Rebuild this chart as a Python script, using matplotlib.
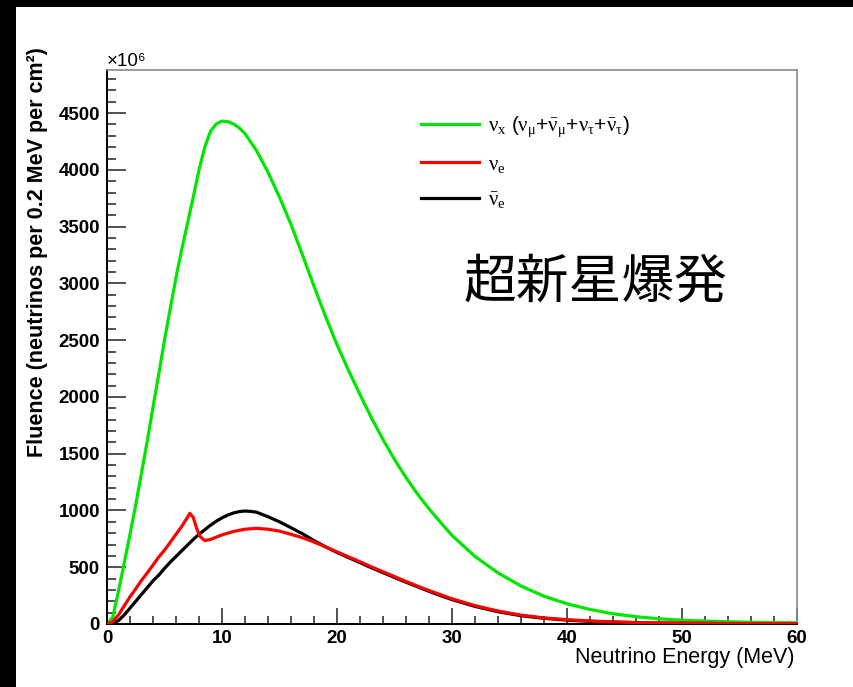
import matplotlib.pyplot as plt
from matplotlib.patches import Rectangle
from matplotlib.ticker import MultipleLocator

plt.rcParams['font.family'] = ['Liberation Sans', 'DejaVu Sans']
plt.rcParams['mathtext.fontset'] = 'custom'
plt.rcParams['mathtext.rm'] = 'Liberation Serif'
plt.rcParams['mathtext.it'] = 'Liberation Serif'
plt.rcParams['mathtext.bf'] = 'Liberation Serif:bold'

# nu_x (nu_mu + anti-nu_mu + nu_tau + anti-nu_tau)
energy_x = [0, 0.5, 1, 1.5, 2, 2.5, 3, 3.5, 4, 4.5, 5, 5.5, 6, 6.5, 7, 7.5, 8, 8.5,
            9, 9.5, 10, 10.5, 11, 11.5, 12, 13, 14, 15, 16, 17, 18, 19, 20, 21, 22,
            23, 24, 25, 26, 27, 28, 29, 30, 32, 34, 36, 38, 40, 42, 44, 46, 48, 50,
            52, 54, 56, 58, 60]
fluence_x = [0, 60, 290, 540, 790, 1050, 1330, 1610, 1910, 2200, 2500, 2780, 3050,
             3300, 3530, 3760, 4000, 4200, 4340, 4405, 4430, 4425, 4405, 4370, 4320,
             4170, 3980, 3760, 3520, 3250, 2975, 2710, 2460, 2235, 2020, 1815, 1625,
             1450, 1290, 1145, 1015, 895, 780, 595, 450, 335, 245, 178, 128, 90, 64,
             46, 34, 26, 20, 15, 12, 10]

# nu_e
energy_e = [0, 0.5, 1, 1.5, 2, 2.5, 3, 3.5, 4, 4.5, 5, 5.5, 6, 6.5, 7, 7.2, 7.5, 7.8,
            8.1, 8.5, 9, 10, 11, 12, 13, 14, 15, 16, 17, 18, 19, 20, 21, 22, 23, 24,
            25, 26, 27, 28, 29, 30, 32, 34, 36, 38, 40, 42, 44, 46, 48, 50, 55, 60]
fluence_e = [0, 20, 80, 160, 240, 310, 385, 450, 520, 590, 650, 720, 790, 860, 940,
             975, 940, 840, 770, 735, 745, 785, 815, 835, 843, 835, 818, 790, 760,
             722, 680, 635, 592, 548, 503, 460, 418, 375, 334, 295, 258, 222, 162,
             114, 78, 54, 38, 27, 19, 13, 10, 8, 4, 2]

# anti-nu_e
energy_ebar = [0, 0.5, 1, 1.5, 2, 2.5, 3, 3.5, 4, 4.5, 5, 5.5, 6, 6.5, 7, 7.5, 8,
               8.5, 9, 9.5, 10, 10.5, 11, 11.5, 12, 12.5, 13, 14, 15, 16, 17, 18, 19,
               20, 21, 22, 23, 24, 25, 26, 27, 28, 29, 30, 32, 34, 36, 38, 40, 42, 44,
               46, 48, 50, 55, 60]
fluence_ebar = [0, 5, 30, 80, 140, 200, 260, 320, 380, 430, 490, 545, 595, 645, 695,
                745, 790, 830, 870, 905, 935, 960, 978, 990, 995, 992, 985, 945, 900,
                848, 795, 735, 680, 630, 585, 540, 495, 452, 410, 368, 328, 288, 250,
                215, 155, 108, 73, 50, 34, 23, 16, 11, 8, 6, 3, 2]

labels = [r'$\nu_x$ ($\nu_\mu$+$\bar{\nu}_\mu$+$\nu_\tau$+$\bar{\nu}_\tau$)',
          r'$\nu_e$', r'$\bar{\nu}_e$']
colors = ['#00e600', '#ff0000', '#000000']

W, H = 854, 687
fig = plt.figure(figsize=(W / 100, H / 100), dpi=100)
fig.patch.set_facecolor('white')
ax = fig.add_axes([107 / W, 1 - 624 / H, (797 - 107) / W, (624 - 70) / H])

ax.plot(energy_x, fluence_x, color=colors[0], lw=2.3, label=labels[0])
ax.plot(energy_e, fluence_e, color=colors[1], lw=2.3, label=labels[1], zorder=3)
ax.plot(energy_ebar, fluence_ebar, color=colors[2], lw=2.3, label=labels[2])

ax.set_xlim(0, 60)
ax.set_ylim(0, 4880)
ax.xaxis.set_major_locator(MultipleLocator(10))
ax.xaxis.set_minor_locator(MultipleLocator(2))
ax.yaxis.set_major_locator(MultipleLocator(500))
ax.yaxis.set_minor_locator(MultipleLocator(100))
ax.tick_params(axis='both', which='both', direction='in', top=False, right=False,
               width=1.1, colors='#222222')
ax.tick_params(axis='x', which='major', length=11.5, pad=4)
ax.tick_params(axis='x', which='minor', length=5.8)
ax.tick_params(axis='y', which='major', length=13.5, pad=5)
ax.tick_params(axis='y', which='minor', length=6.5)
for lab in ax.get_xticklabels() + ax.get_yticklabels():
    lab.set_fontweight('bold')
    lab.set_fontsize(13.5)
    lab.set_color('black')

for side in ['top', 'right']:
    ax.spines[side].set_color('#8a8a8a')
    ax.spines[side].set_linewidth(1.2)
for side in ['left', 'bottom']:
    ax.spines[side].set_color('black')
    ax.spines[side].set_linewidth(1.4)

fig.text(107 / W, 1 - 61 / H, '×10⁶', fontsize=13.5, ha='left', va='center')

fig.text(38 / W, 1 - 252 / H, 'Fluence (neutrinos per 0.2 MeV per cm²)',
         rotation=90, fontsize=15.5, fontweight='bold', ha='center', va='center')
fig.text(795 / W, 1 - 657 / H, 'Neutrino Energy (MeV)', fontsize=15.5,
         ha='right', va='center')

ax.legend(loc='upper left', bbox_to_anchor=(411 / W, 1 - 104 / H),
          bbox_transform=fig.transFigure, frameon=False, fontsize=15,
          handlelength=2.75, handletextpad=0.45, labelspacing=0.75, borderpad=0)

fig.text(595 / W, 1 - 282 / H, '超新星爆発', fontsize=38,
         family=['Noto Sans CJK JP', 'DejaVu Sans'], ha='center', va='center')

# black border along the top and left edges
fig.patches.append(Rectangle((0, 0), 16 / W, 1, transform=fig.transFigure,
                             facecolor='black', edgecolor='none', zorder=10))
fig.patches.append(Rectangle((0, 1 - 7 / H), 1, 7 / H, transform=fig.transFigure,
                             facecolor='black', edgecolor='none', zorder=10))

fig.savefig('out.png', dpi=100, facecolor='white')
